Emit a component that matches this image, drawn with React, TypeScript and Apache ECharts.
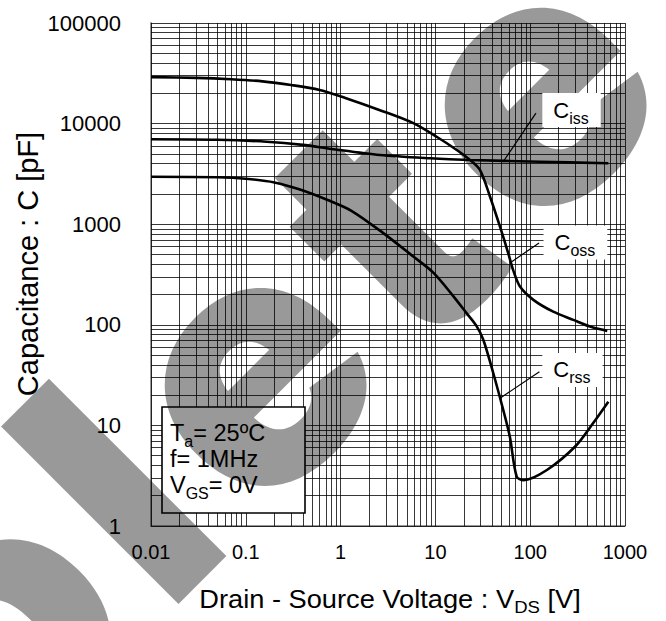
import React, { useEffect, useRef } from 'react';
import * as echarts from 'echarts';

const FONT = "'Liberation Sans', Arial, Helvetica, sans-serif";

// Tick labels
const xTickLabels = ['0.01', '0.1', '1', '10', '100', '1000'];
const yTickLabels = ['1', '10', '100', '1000', '10000', '100000'];

// Series values: [V_DS (V), C (pF)]
const cossPoints: [number, number][] = [
  [0.01, 29000], [0.03, 28500], [0.07, 27600], [0.15, 26300], [0.3, 24200],
  [0.6, 21600], [1.16, 17800], [2.6, 13600], [5.85, 10100], [10.3, 7400],
  [16.8, 5470], [23.2, 4350], [29.5, 3460], [37.7, 1875], [48, 944],
  [58.7, 514], [66, 351], [78, 240], [108, 177], [175, 135], [285, 112],
  [428, 96], [650, 87],
];
const cissPoints: [number, number][] = [
  [0.01, 6980], [0.05, 6900], [0.166, 6610], [0.4, 6150], [0.8, 5600],
  [2.6, 4870], [8.8, 4520], [23, 4350], [127, 4180], [667, 4030],
];
const crssPoints: [number, number][] = [
  [0.01, 2960], [0.05, 2930], [0.1, 2830], [0.2, 2600], [0.38, 2200],
  [0.73, 1740], [1.3, 1360], [2.8, 820], [5.8, 480], [9.5, 330],
  [15.5, 192], [21.4, 130], [27, 98], [32, 71], [40.8, 33], [52, 14.2],
  [61, 7.7], [72, 3.1], [85, 2.85], [150, 3.6], [300, 6.2], [460, 10.5],
  [667, 17.2],
];

// Annotation anchors (data space)
const labelNames = ['iss', 'oss', 'rss'];
const labelAnchors: [number, number][] = [[273, 13650], [300, 658], [279, 35.6]];
const leaderStarts: [number, number][] = [[51.6, 4150], [63.8, 424], [48, 18.6]];
const leaderEnds: [number, number][] = [[115, 12700], [124, 650], [125, 34.2]];

// Condition box lines
const conditionLines = ['T{s|a}= 25ºC', 'f= 1MHz', 'V{s|GS}= 0V'];

// Watermark letters (along-baseline offsets)
const watermarkLetters = ['o', 'l', 'e', 't', 'e'];
const watermarkOffsets = [-445, -267, -88, 110, 308];

export default function App() {
  const ref = useRef<HTMLDivElement>(null);
  useEffect(() => {
    const chart = echarts.init(ref.current!, null, { renderer: 'svg' });

    const xGrid: number[] = [];
    for (let e = -2; e < 3; e++) for (let k = 1; k < 10; k++) xGrid.push(+(k * Math.pow(10, e)).toPrecision(6));
    xGrid.push(1000);
    const yGrid: number[] = [];
    for (let e = 0; e < 5; e++) for (let k = 1; k < 10; k++) yGrid.push(k * Math.pow(10, e));
    yGrid.push(100000);

    const gridLineData: any[] = [
      ...xGrid.map((v) => ({ xAxis: v })),
      ...yGrid.map((v) => ({ yAxis: v })),
    ];

    const curve = (name: string, data: [number, number][]) => ({
      name,
      type: 'line',
      data,
      showSymbol: false,
      symbol: 'none',
      smooth: 0.3,
      z: 3,
      lineStyle: { color: '#000', width: 2.6 },
      silent: true,
    });

    const SQ = Math.SQRT2;
    const c = 605;
    const watermark = watermarkLetters.map((ch, i) => {
      const a = watermarkOffsets[i];
      return {
        type: 'text',
        x: (c + a * SQ) / 2,
        y: (c - a * SQ) / 2,
        rotation: Math.PI / 4,
        z: 6,
        silent: true,
        style: {
          text: ch,
          fontSize: 345,
          fontFamily: 'Inter',
          fontWeight: 900,
          fill: 'rgba(0,0,0,0.4)',
          align: 'center',
          verticalAlign: 'middle',
          textAlign: 'center',
          textVerticalAlign: 'middle',
        },
      };
    });

    const condTexts = conditionLines.map((t, i) => ({
      type: 'text',
      x: 170,
      y: 433 + i * 26,
      z: 4,
      silent: true,
      style: {
        text: t,
        fontSize: 23.5,
        fontFamily: FONT,
        fill: '#000',
        lineHeight: 33,
        align: 'left',
        verticalAlign: 'middle',
        textAlign: 'left',
        textVerticalAlign: 'middle',
        rich: { s: { fontSize: 16, fontFamily: FONT, lineHeight: 18, verticalAlign: 'bottom', fill: '#000' } },
      },
    }));

    chart.setOption({
      animation: false,
      backgroundColor: '#fff',
      grid: { left: 151, top: 23, right: 41, bottom: 95, containLabel: false },
      xAxis: {
        type: 'log',
        logBase: 10,
        min: 0.01,
        max: 1000,
        splitNumber: 5,
        axisLine: { show: true, lineStyle: { color: '#999', width: 2 } },
        axisTick: { show: false },
        splitLine: { show: false },
        axisLabel: {
          fontSize: 20,
          fontFamily: FONT,
          color: '#000',
          margin: 16,
          formatter: (v: number) => xTickLabels[Math.round(Math.log10(v)) + 2] ?? '',
        },
      },
      yAxis: {
        type: 'log',
        logBase: 10,
        min: 1,
        max: 100000,
        splitNumber: 5,
        axisLine: { show: true, lineStyle: { color: '#999', width: 2 } },
        axisTick: { show: false },
        splitLine: { show: false },
        axisLabel: {
          fontSize: 22,
          fontFamily: FONT,
          color: '#000',
          margin: 30,
          formatter: (v: number) => yTickLabels[Math.round(Math.log10(v))] ?? '',
        },
      },
      series: [
        {
          name: 'grid',
          type: 'line',
          data: [[0.01, 1]],
          showSymbol: false,
          symbol: 'none',
          lineStyle: { opacity: 0 },
          silent: true,
          z: 1,
          markLine: {
            silent: true,
            symbol: ['none', 'none'],
            z: 1,
            label: { show: false },
            lineStyle: { color: 'rgba(0,0,0,0.78)', width: 1, type: 'solid' },
            emphasis: { disabled: true },
            data: gridLineData,
          },
        },
        curve('Coss', cossPoints),
        curve('Ciss', cissPoints),
        curve('Crss', crssPoints),
        {
          name: 'annotations',
          type: 'line',
          data: [],
          silent: true,
          markLine: {
            silent: true,
            symbol: ['none', 'none'],
            z: 7,
            label: { show: false },
            lineStyle: { color: '#000', width: 1.2, type: 'solid' },
            data: leaderStarts.map((s, i) => [{ coord: s }, { coord: leaderEnds[i] }]),
          },
          markPoint: {
            silent: true,
            z: 10,
            symbol: 'rect',
            symbolSize: 1,
            itemStyle: { color: 'rgba(0,0,0,0)' },
            label: {
              show: true,
              position: 'inside',
              backgroundColor: '#fff',
              padding: [1, 12, 1, 11],
              rich: {
                c: { fontSize: 22, fontFamily: FONT, color: '#000', lineHeight: 32 },
                s: { fontSize: 16, fontFamily: FONT, color: '#000', lineHeight: 17, verticalAlign: 'bottom' },
              },
            },
            data: labelNames.map((n, i) => ({
              coord: labelAnchors[i],
              label: { formatter: `{c|C}{s|${n}}` },
            })),
          },
        },
      ],
      graphic: [
        {
          type: 'rect',
          z: 3,
          silent: true,
          shape: { x: 162, y: 407, width: 143, height: 106 },
          style: { fill: '#fff', stroke: '#000', lineWidth: 1.6 },
        },
        ...condTexts,
        {
          type: 'text',
          x: 390,
          y: 599,
          scaleX: 1.09,
          silent: true,
          style: {
            text: 'Drain - Source Voltage : V{s|DS} [V]',
            fontSize: 25,
            fontFamily: FONT,
            fill: '#000',
            lineHeight: 34,
            align: 'center',
            verticalAlign: 'middle',
            textAlign: 'center',
            textVerticalAlign: 'middle',
            rich: { s: { fontSize: 17, fontFamily: FONT, lineHeight: 18, verticalAlign: 'bottom', fill: '#000' } },
          },
        },
        {
          type: 'text',
          x: 28,
          y: 264,
          rotation: Math.PI / 2,
          silent: true,
          style: {
            text: 'Capacitance : C [pF]',
            fontSize: 29,
            fontFamily: FONT,
            fill: '#000',
            align: 'center',
            verticalAlign: 'middle',
            textAlign: 'center',
            textVerticalAlign: 'middle',
          },
        },
        ...watermark,
      ],
    });

    return () => chart.dispose();
  }, []);

  return <div ref={ref} style={{ position: 'absolute', left: 0, top: 0, width: 666, height: 621 }} />;
}
